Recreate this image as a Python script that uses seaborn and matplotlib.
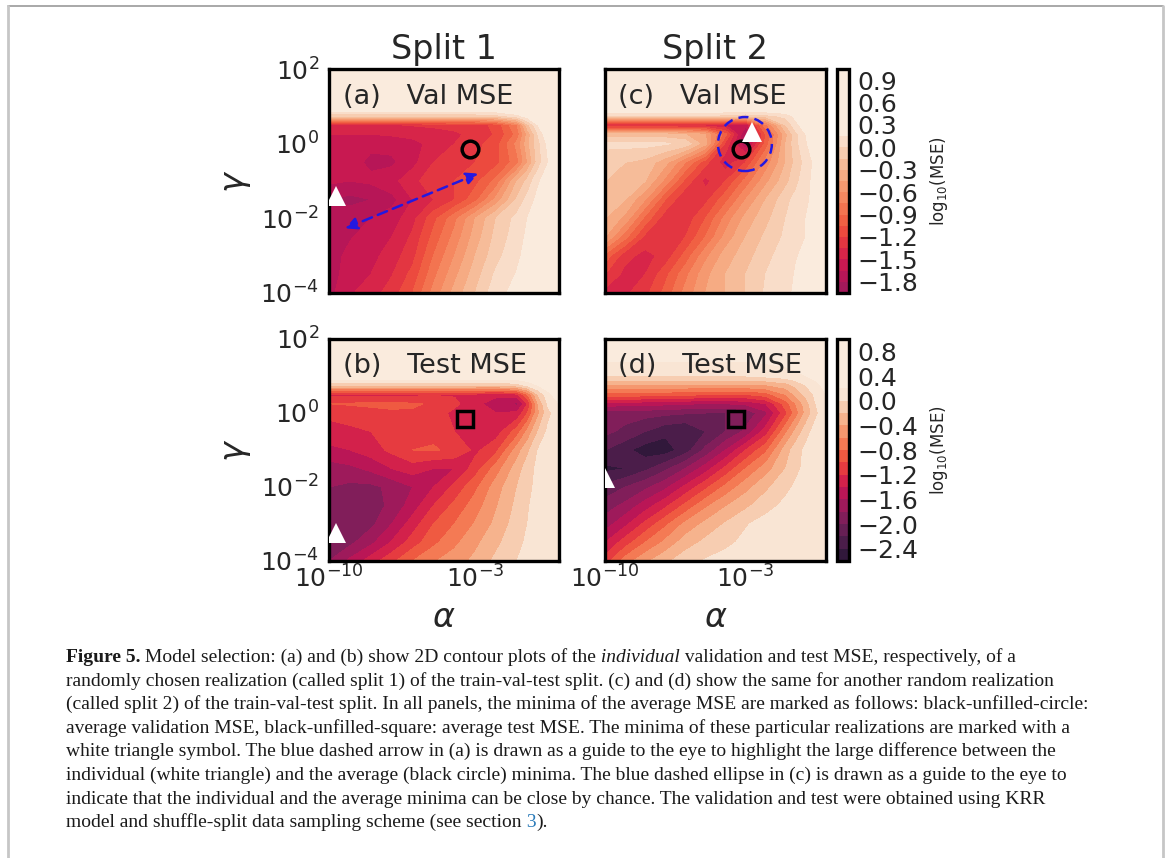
import numpy as np
import matplotlib
matplotlib.use("Agg")
import matplotlib.pyplot as plt
import seaborn as sns
from matplotlib.colors import Normalize
from matplotlib.patches import Ellipse
from matplotlib.lines import Line2D
from matplotlib.ticker import FuncFormatter

# grid: log10(alpha) columns, log10(gamma) rows (top -> bottom)
log_alpha = [-10, -9, -8, -7, -6, -5, -4, -3, -2, -1, -0.5, 0, 0.5, 1]
log_gamma = [2, 1, 0.75, 0.5, 0.25, 0, -0.5, -1, -1.5, -2, -2.5, -3, -3.5, -4]

# (a) validation MSE, split 1  (log10 MSE)
val_split1 = [
    [0.6, 0.6, 0.6, 0.6, 0.6, 0.6, 0.6, 0.6, 0.6, 0.6, 0.6, 0.6, 0.6, 0.6],
    [0.45, 0.45, 0.45, 0.45, 0.45, 0.45, 0.45, 0.45, 0.45, 0.45, 0.45, 0.45, 0.45, 0.45],
    [-0.1, -0.1, -0.1, -0.1, -0.1, -0.1, -0.1, -0.1, -0.05, 0.1, 0.25, 0.35, 0.42, 0.45],
    [-1.38, -1.38, -1.38, -1.36, -1.34, -1.32, -1.3, -1.28, -1.15, -0.75, -0.2, 0.15, 0.35, 0.4],
    [-1.5, -1.5, -1.5, -1.48, -1.45, -1.42, -1.38, -1.3, -1.18, -0.85, -0.4, 0.0, 0.3, 0.38],
    [-1.6, -1.62, -1.62, -1.6, -1.55, -1.45, -1.35, -1.25, -1.12, -0.7, -0.35, -0.05, 0.2, 0.32],
    [-1.55, -1.6, -1.68, -1.68, -1.55, -1.35, -1.25, -1.2, -1.1, -0.8, -0.45, -0.08, 0.15, 0.3],
    [-1.62, -1.65, -1.62, -1.55, -1.4, -1.25, -1.2, -1.1, -0.85, -0.3, -0.1, 0.12, 0.25, 0.3],
    [-1.8, -1.85, -1.8, -1.7, -1.5, -1.35, -1.2, -0.95, -0.55, -0.12, 0.05, 0.2, 0.28, 0.3],
    [-1.68, -1.7, -1.65, -1.58, -1.4, -1.1, -0.8, -0.45, -0.15, 0.05, 0.15, 0.25, 0.28, 0.3],
    [-1.68, -1.66, -1.6, -1.5, -1.32, -1.0, -0.7, -0.38, -0.1, 0.08, 0.18, 0.26, 0.3, 0.32],
    [-1.7, -1.62, -1.55, -1.43, -1.25, -0.9, -0.6, -0.3, -0.05, 0.12, 0.2, 0.28, 0.31, 0.33],
    [-1.72, -1.58, -1.5, -1.36, -1.15, -0.8, -0.5, -0.22, 0.03, 0.16, 0.23, 0.29, 0.32, 0.34],
    [-1.7, -1.52, -1.42, -1.28, -1.05, -0.7, -0.4, -0.15, 0.1, 0.2, 0.25, 0.3, 0.33, 0.35],
]

# (b) test MSE, split 1
test_split1 = [
    [0.5, 0.5, 0.5, 0.5, 0.5, 0.5, 0.5, 0.5, 0.5, 0.5, 0.5, 0.5, 0.5, 0.5],
    [0.4, 0.4, 0.4, 0.4, 0.4, 0.4, 0.4, 0.4, 0.4, 0.4, 0.4, 0.4, 0.4, 0.4],
    [-0.2, -0.2, -0.2, -0.2, -0.2, -0.2, -0.2, -0.2, -0.2, -0.1, 0.05, 0.2, 0.3, 0.4],
    [-1.25, -1.25, -1.25, -1.25, -1.25, -1.22, -1.22, -1.25, -1.35, -1.25, -0.8, -0.2, 0.15, 0.3],
    [-1.0, -0.98, -0.97, -0.97, -0.98, -1.02, -1.15, -1.35, -1.5, -1.65, -1.2, -0.4, 0.05, 0.2],
    [-1.15, -1.1, -1.05, -1.02, -1.02, -1.1, -1.25, -1.35, -1.4, -1.35, -1.0, -0.45, -0.05, 0.1],
    [-1.28, -1.25, -1.2, -1.1, -1.02, -1.05, -1.2, -1.3, -1.3, -0.9, -0.55, -0.2, 0.05, 0.15],
    [-1.45, -1.4, -1.3, -1.15, -1.0, -0.98, -1.05, -1.25, -1.05, -0.5, -0.25, 0.0, 0.1, 0.15],
    [-1.7, -1.65, -1.55, -1.4, -1.3, -1.4, -1.4, -1.1, -0.7, -0.3, -0.1, 0.05, 0.12, 0.15],
    [-1.8, -1.85, -1.85, -1.75, -1.6, -1.4, -1.15, -0.85, -0.5, -0.2, -0.05, 0.05, 0.12, 0.15],
    [-1.85, -1.92, -1.9, -1.75, -1.5, -1.2, -0.95, -0.7, -0.42, -0.15, -0.02, 0.08, 0.12, 0.15],
    [-1.95, -1.95, -1.85, -1.6, -1.3, -1.0, -0.8, -0.58, -0.35, -0.1, 0.0, 0.1, 0.13, 0.15],
    [-1.95, -1.85, -1.65, -1.38, -1.1, -0.85, -0.65, -0.45, -0.25, -0.05, 0.03, 0.1, 0.13, 0.15],
    [-1.8, -1.55, -1.3, -1.05, -0.8, -0.62, -0.5, -0.35, -0.15, 0.0, 0.05, 0.1, 0.13, 0.15],
]

# (c) validation MSE, split 2
val_split2 = [
    [0.6, 0.6, 0.6, 0.6, 0.6, 0.6, 0.6, 0.6, 0.6, 0.6, 0.6, 0.6, 0.6, 0.6],
    [0.45, 0.45, 0.45, 0.45, 0.45, 0.45, 0.45, 0.45, 0.45, 0.45, 0.45, 0.45, 0.45, 0.45],
    [0.0, 0.0, 0.0, 0.0, 0.0, 0.0, -0.05, -0.1, -0.05, 0.05, 0.2, 0.3, 0.4, 0.45],
    [-1.45, -1.45, -1.45, -1.45, -1.45, -1.45, -1.5, -1.6, -0.8, -0.15, 0.1, 0.25, 0.4, 0.45],
    [-0.25, -0.25, -0.25, -0.25, -0.3, -0.45, -1.0, -1.85, -1.05, -0.35, -0.05, 0.15, 0.35, 0.45],
    [0.05, 0.05, 0.05, 0.02, -0.05, -0.4, -1.25, -1.8, -1.0, -0.3, -0.05, 0.12, 0.3, 0.4],
    [-0.12, -0.15, -0.2, -0.4, -0.75, -1.15, -1.45, -1.2, -0.7, -0.3, -0.1, 0.05, 0.2, 0.3],
    [-0.15, -0.2, -0.3, -0.65, -1.1, -1.4, -1.2, -0.85, -0.5, -0.2, -0.05, 0.1, 0.2, 0.25],
    [-0.2, -0.3, -0.6, -1.05, -1.35, -1.25, -0.95, -0.6, -0.3, -0.05, 0.05, 0.12, 0.2, 0.25],
    [-0.3, -0.5, -0.95, -1.3, -1.3, -1.05, -0.7, -0.4, -0.2, 0.0, 0.08, 0.15, 0.2, 0.25],
    [-0.45, -0.85, -1.25, -1.35, -1.2, -0.9, -0.55, -0.3, -0.12, 0.03, 0.1, 0.15, 0.2, 0.25],
    [-0.95, -1.3, -1.4, -1.3, -1.0, -0.65, -0.38, -0.22, -0.05, 0.08, 0.14, 0.18, 0.22, 0.25],
    [-1.2, -1.4, -1.35, -1.1, -0.8, -0.5, -0.3, -0.15, 0.0, 0.1, 0.16, 0.2, 0.22, 0.25],
    [-1.4, -1.38, -1.25, -1.0, -0.7, -0.45, -0.3, -0.15, 0.02, 0.12, 0.17, 0.2, 0.22, 0.25],
]

# (d) test MSE, split 2
test_split2 = [
    [0.5, 0.5, 0.5, 0.5, 0.5, 0.5, 0.5, 0.5, 0.5, 0.5, 0.5, 0.5, 0.5, 0.5],
    [0.0, 0.0, 0.0, 0.0, 0.0, 0.0, 0.0, 0.0, 0.05, 0.1, 0.15, 0.2, 0.25, 0.3],
    [-0.45, -0.45, -0.45, -0.45, -0.45, -0.45, -0.45, -0.45, -0.42, -0.3, -0.15, 0.0, 0.15, 0.25],
    [-0.9, -0.9, -0.9, -0.92, -0.95, -0.98, -1.0, -1.0, -0.9, -0.6, -0.35, -0.15, 0.05, 0.2],
    [-1.5, -1.5, -1.52, -1.55, -1.58, -1.6, -1.6, -1.55, -1.4, -0.9, -0.6, -0.3, 0.0, 0.15],
    [-1.9, -1.92, -1.92, -1.95, -1.98, -2.0, -2.0, -1.95, -1.65, -1.05, -0.7, -0.35, -0.05, 0.15],
    [-1.95, -2.05, -2.2, -2.35, -2.4, -2.2, -2.0, -1.75, -1.3, -0.65, -0.35, -0.1, 0.1, 0.2],
    [-2.2, -2.35, -2.5, -2.5, -2.3, -1.95, -1.6, -1.2, -0.85, -0.3, -0.1, 0.05, 0.15, 0.2],
    [-2.45, -2.4, -2.25, -2.05, -1.8, -1.5, -1.15, -0.8, -0.5, -0.2, -0.05, 0.05, 0.15, 0.2],
    [-2.15, -2.0, -1.85, -1.65, -1.35, -1.05, -0.75, -0.48, -0.25, -0.05, 0.03, 0.1, 0.15, 0.2],
    [-1.9, -1.75, -1.5, -1.25, -0.95, -0.65, -0.42, -0.25, -0.08, 0.05, 0.1, 0.15, 0.18, 0.2],
    [-1.7, -1.45, -1.15, -0.85, -0.55, -0.35, -0.18, -0.02, 0.08, 0.15, 0.18, 0.2, 0.2, 0.2],
    [-1.4, -1.1, -0.8, -0.55, -0.3, -0.15, -0.05, 0.05, 0.12, 0.17, 0.19, 0.2, 0.2, 0.2],
    [-1.1, -0.7, -0.45, -0.25, -0.08, 0.02, 0.08, 0.12, 0.15, 0.2, 0.2, 0.2, 0.2, 0.2],
]

# minima (log10 alpha, log10 gamma)
avg_val_min = [-3.25, -0.15]
avg_test_min = [-3.5, -0.15]
indiv_min_a = [-9.65, -1.4]
indiv_min_b = [-9.65, -3.25]
indiv_min_c = [-2.7, 0.3]
indiv_min_d = [-10.0, -1.76]
arrow_a = [[-2.86, -0.8], [-9.23, -2.27]]

val_levels = np.round(np.linspace(-1.95, 1.05, 21), 2)
val_ticks = [0.9, 0.6, 0.3, 0.0, -0.3, -0.6, -0.9, -1.2, -1.5, -1.8]
test_levels = np.round(np.linspace(-2.6, 1.0, 19), 2)
test_ticks = [0.8, 0.4, 0.0, -0.4, -0.8, -1.2, -1.6, -2.0, -2.4]

sns.set_style("white")
plt.rcParams["mathtext.fontset"] = "dejavusans"
cmap = sns.color_palette("rocket", as_cmap=True)
val_norm = Normalize(-3.3, 0.2)
test_norm = Normalize(-2.9, 0.15)

W, H = 1167, 858
fig = plt.figure(figsize=(W / 100, H / 100), dpi=100)


def box(x0, y0, x1, y1):
    return [x0 / W, 1 - y1 / H, (x1 - x0) / W, (y1 - y0) / H]


ax_a = fig.add_axes(box(329, 69, 559, 293))
ax_c = fig.add_axes(box(605, 69, 826, 293))
ax_b = fig.add_axes(box(329, 339, 559, 561))
ax_d = fig.add_axes(box(605, 339, 826, 561))
cax_top = fig.add_axes(box(837, 69, 849, 293))
cax_bot = fig.add_axes(box(837, 339, 849, 561))

ys = log_gamma[::-1]
panels = [
    (ax_a, val_split1, val_levels, val_norm, "(a)   Val MSE"),
    (ax_b, test_split1, test_levels, test_norm, "(b)   Test MSE"),
    (ax_c, val_split2, val_levels, val_norm, "(c)   Val MSE"),
    (ax_d, test_split2, test_levels, test_norm, "(d)   Test MSE"),
]
sets = {}
for ax, grid, levels, norm, label in panels:
    z = np.array(grid)[::-1]
    sets[ax] = ax.contourf(log_alpha, ys, z, levels=levels, cmap=cmap, norm=norm)
    ax.set_xlim(-10, 1)
    ax.set_ylim(-4, 2)
    ax.set_xticks([-10, -3])
    ax.set_yticks([-4, -2, 0, 2])
    ax.tick_params(length=0, labelsize=18)
    ax.tick_params(axis="x", pad=3)
    ax.tick_params(axis="y", pad=7)
    for sp in ax.spines.values():
        sp.set_visible(True)
        sp.set_color("black")
        sp.set_linewidth(2.4)
        sp.set_zorder(6)
    ax.text(0.06, 0.935, label, transform=ax.transAxes, fontsize=19.5,
            ha="left", va="top", color="#262626", zorder=7)

for ax in (ax_a, ax_b):
    ax.set_yticklabels([r"$10^{-4}$", r"$10^{-2}$", r"$10^{0}$", r"$10^{2}$"])
    ax.set_ylabel(r"$\gamma$", fontsize=24)
    ax.yaxis.set_label_coords(-0.33, 0.5)
for ax in (ax_c, ax_d):
    ax.set_yticklabels([])
for ax in (ax_b, ax_d):
    ax.set_xticklabels([r"$10^{-10}$", r"$10^{-3}$"])
    ax.set_xlabel(r"$\alpha$", fontsize=24)
    ax.xaxis.set_label_coords(0.5, -0.18)
for ax in (ax_a, ax_c):
    ax.set_xticklabels([])

ax_a.set_title("Split 1", fontsize=24, pad=7, color="#262626")
ax_c.set_title("Split 2", fontsize=24, pad=7, color="#262626")

# markers
mk = dict(ls="none", zorder=8, clip_on=True)
for ax in (ax_a, ax_c):
    ax.plot(avg_val_min[0], avg_val_min[1], marker="o", ms=12, mfc="none",
            mec="black", mew=2.5, **mk)
for ax in (ax_b, ax_d):
    ax.plot(avg_test_min[0], avg_test_min[1], marker="s", ms=12, mfc="none",
            mec="black", mew=2.5, **mk)
for ax, p in ((ax_a, indiv_min_a), (ax_b, indiv_min_b),
              (ax_c, indiv_min_c), (ax_d, indiv_min_d)):
    ax.plot(p[0], p[1], marker="^", ms=14, mfc="white", mec="white", mew=0, **mk)

ax_a.annotate("", xy=arrow_a[0], xytext=arrow_a[1],
              arrowprops=dict(arrowstyle="<|-|>", ls=(0, (4, 2.5)), lw=1.8,
                              color="#2418e0", mutation_scale=18,
                              shrinkA=0, shrinkB=0), zorder=8)
ax_c.add_patch(Ellipse((0.633, 0.665), 0.244, 0.241, transform=ax_c.transAxes,
                       fill=False, ec="#2418e0", lw=1.8, ls=(0, (4, 2.5)), zorder=8))


def cb_fmt(v, pos):
    return f"{v:.1f}".replace("-", "\u2212")


for cax, ax, ticks in ((cax_top, ax_c, val_ticks), (cax_bot, ax_d, test_ticks)):
    cb = fig.colorbar(sets[ax], cax=cax, ticks=ticks, format=FuncFormatter(cb_fmt))
    cb.outline.set_linewidth(2.4)
    cb.outline.set_edgecolor("black")
    cax.tick_params(length=0, labelsize=18, pad=6, colors="#262626")
    cb.set_label(r"log$_{10}$(MSE)", fontsize=12, color="#262626")
    cax.yaxis.set_label_coords(7.6, 0.5)

# page frame
fig.add_artist(Line2D([8 / W, 1163 / W], [1 - 6 / H, 1 - 6 / H], color="#9a9a9a", lw=1.2))
fig.add_artist(Line2D([8 / W, 8 / W], [0, 1 - 6 / H], color="#c6c6c6", lw=2))
fig.add_artist(Line2D([1163 / W, 1163 / W], [0, 1 - 6 / H], color="#c6c6c6", lw=2))

# caption
cap = dict(family="Liberation Serif", fontsize=14.0, color="#1a1a1a", va="baseline", ha="left")
lines = [
    [("Figure 5.", {"weight": "bold"}),
     (" Model selection: (a) and (b) show 2D contour plots of the", {}),
     (" individual", {"style": "italic"}),
     (" validation and test MSE, respectively, of a", {})],
    [("randomly chosen realization (called split 1) of the train-val-test split. (c) and (d) show the same for another random realization", {})],
    [("(called split 2) of the train-val-test split. In all panels, the minima of the average MSE are marked as follows: black-unfilled-circle:", {})],
    [("average validation MSE, black-unfilled-square: average test MSE. The minima of these particular realizations are marked with a", {})],
    [("white triangle symbol. The blue dashed arrow in (a) is drawn as a guide to the eye to highlight the large difference between the", {})],
    [("individual (white triangle) and the average (black circle) minima. The blue dashed ellipse in (c) is drawn as a guide to the eye to", {})],
    [("indicate that the individual and the average minima can be close by chance. The validation and test were obtained using KRR", {})],
    [("model and shuffle-split data sampling scheme (see section", {}),
     (" 3", {"color": "#2b7bb9"}),
     (").", {})],
]
renderer = fig.canvas.get_renderer()
for i, runs in enumerate(lines):
    y = 662 + i * 23.6
    x = 66
    for s, kw in runs:
        t = fig.text(x / W, 1 - y / H, s, **{**cap, **kw})
        bb = t.get_window_extent(renderer)
        x = bb.x1

fig.savefig("out.png", dpi=100)
